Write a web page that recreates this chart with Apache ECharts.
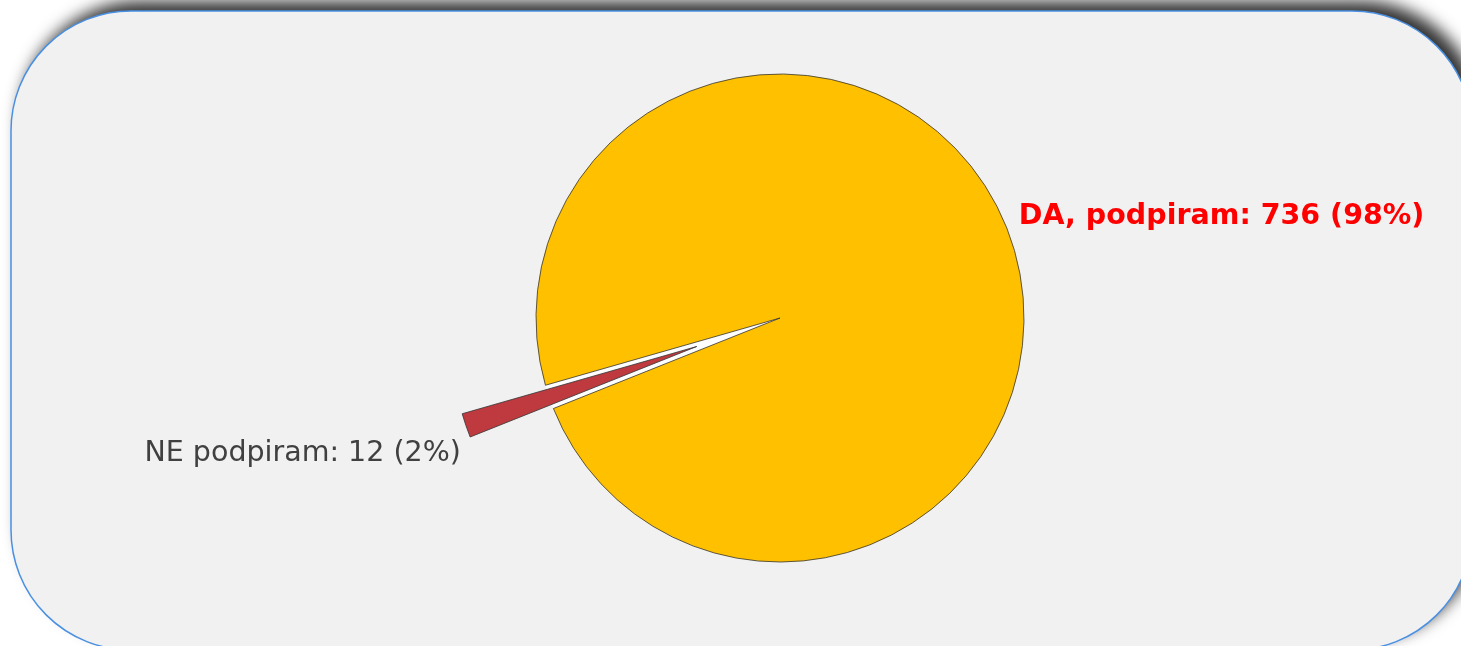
<!DOCTYPE html>
<html>
<head>
<meta charset="utf-8">
<script src="https://cdn.jsdelivr.net/npm/echarts@6/dist/echarts.min.js"></script>
<style>html,body{margin:0;padding:0;background:#fff;}#c{width:1461px;height:646px;}</style>
</head>
<body>
<div id="c"></div>
<script>
const categories = ['DA, podpiram', 'NE podpiram'];
const values = [736, 12];
const colors = ['#FFC000', '#BE3A3E'];
const labelColors = ['#FF0000', '#404040'];
const labelWeights = ['bold', 'normal'];

const chart = echarts.init(document.getElementById('c'), null, {renderer: 'canvas'});
const pieData = categories.map((name, i) => ({
  name: name,
  value: values[i],
  selected: i === 1,
  itemStyle: {color: colors[i]},
  label: {color: labelColors[i], fontWeight: labelWeights[i]}
}));

chart.setOption({
  animation: false,
  backgroundColor: '#ffffff',
  graphic: [{
    type: 'rect',
    z: -10,
    shape: {x: 11, y: 11, width: 1461, height: 639, r: 120},
    style: {
      fill: '#f1f1f1',
      shadowBlur: 16,
      shadowColor: 'rgba(0,0,0,0.8)',
      shadowOffsetX: 9,
      shadowOffsetY: -10
    },
    silent: true
  }, {
    type: 'rect',
    z: -9,
    shape: {x: 11, y: 11, width: 1461, height: 639, r: 120},
    style: {
      fill: null,
      stroke: '#4a90e2',
      lineWidth: 1.5
    },
    silent: true
  }],
  series: [{
    type: 'pie',
    silent: true,
    center: [780, 318],
    radius: 244,
    z: 1,
    label: {show: false},
    labelLine: {show: false},
    itemStyle: {color: '#ffffff', borderWidth: 0},
    data: [{value: 1, name: ''}]
  }, {
    type: 'pie',
    z: 2,
    center: [780, 318],
    radius: 244,
    startAngle: 196,
    clockwise: true,
    selectedMode: 'single',
    selectedOffset: 88,
    avoidLabelOverlap: false,
    emphasis: {scale: false},
    itemStyle: {borderColor: '#333333', borderWidth: 0.8},
    label: {
      show: true,
      position: 'outside',
      fontFamily: 'DejaVu Sans',
      fontSize: 28.5,
      formatter: p => p.name + ': ' + p.value + ' (' + Math.round(p.percent) + '%)'
    },
    labelLine: {show: false, length: 0, length2: 0},
    labelLayout: function (params) {
      return params.dataIndex === 0 ? {dx: 3, dy: -22} : {dx: 0, dy: 28};
    },
    data: pieData
  }]
});
</script>
</body>
</html>
